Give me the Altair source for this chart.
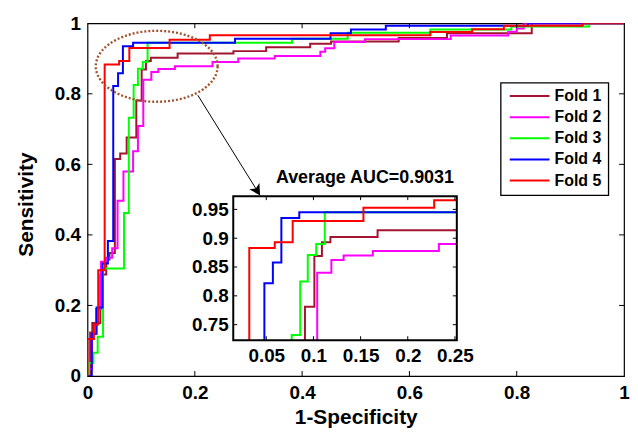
import altair as alt
import numpy as np
import pandas as pd

folds = ["Fold 1", "Fold 2", "Fold 3", "Fold 4", "Fold 5"]
colors = ["#A2142F", "#FF00FF", "#00FF00", "#0000FF", "#FF0000"]

# ROC step corners: at fpr[i] the sensitivity jumps to tpr[i]
fold1_fpr = [0.005, 0.009, 0.024, 0.035, 0.041, 0.051, 0.061, 0.073, 0.091, 0.101, 0.109, 0.118, 0.168, 0.272, 0.333, 0.415, 0.454, 0.580, 0.670, 0.828, 1.0]
fold1_tpr = [0.123, 0.150, 0.288, 0.330, 0.349, 0.615, 0.631, 0.676, 0.781, 0.869, 0.893, 0.902, 0.914, 0.921, 0.932, 0.942, 0.948, 0.958, 0.972, 1.0, 1.0]

fold2_fpr = [0.002, 0.008, 0.016, 0.025, 0.035, 0.046, 0.056, 0.067, 0.085, 0.094, 0.104, 0.119, 0.132, 0.163, 0.233, 0.281, 0.349, 0.434, 0.443, 0.460, 0.517, 0.677, 0.784, 0.800, 0.813, 1.0]
fold2_tpr = [0.020, 0.120, 0.190, 0.324, 0.335, 0.362, 0.497, 0.580, 0.637, 0.709, 0.840, 0.862, 0.870, 0.878, 0.890, 0.900, 0.907, 0.919, 0.929, 0.947, 0.955, 0.965, 0.976, 0.985, 1.0, 1.0]

fold3_fpr = [0.003, 0.011, 0.019, 0.029, 0.068, 0.077, 0.086, 0.094, 0.103, 0.112, 0.381, 0.485, 0.639, 0.790, 0.935, 1.0]
fold3_tpr = [0.037, 0.066, 0.111, 0.305, 0.462, 0.732, 0.825, 0.871, 0.890, 0.945, 0.956, 0.973, 0.982, 0.991, 1.0, 1.0]

fold4_fpr = [0.008, 0.017, 0.028, 0.038, 0.048, 0.057, 0.066, 0.085, 0.275, 0.453, 0.491, 0.556, 0.821, 1.0]
fold4_tpr = [0.120, 0.194, 0.319, 0.383, 0.822, 0.858, 0.935, 0.945, 0.956, 0.972, 0.982, 0.993, 1.0, 1.0]

fold5_fpr = [0.0, 0.012, 0.020, 0.032, 0.059, 0.078, 0.153, 0.228, 0.639, 0.717, 0.776, 0.923, 1.0]
fold5_tpr = [0.105, 0.146, 0.300, 0.883, 0.893, 0.930, 0.953, 0.966, 0.975, 0.983, 0.993, 1.0, 1.0]

main_ticks = [0, 0.2, 0.4, 0.6, 0.8, 1]
inset_xticks = [0.05, 0.1, 0.15, 0.2, 0.25]
inset_yticks = [0.75, 0.8, 0.85, 0.9, 0.95]
inset_xlim = [0.015, 0.252]
inset_ylim = [0.723, 0.973]
inset_title = "Average AUC=0.9031"
xlabel = "1-Specificity"
ylabel = "Sensitivity"

# zoom ellipse (center, radii) and arrow in data units
ell_center = (0.129, 0.878)
ell_radii = (0.1135, 0.1006)
arrow_start = (0.2056, 0.796)
arrow_end = (0.3217, 0.512)

FONT = "Liberation Sans"
W, H = 540, 355
# inset box in pixels within the plot area
IX0, IX1, IY0, IY1 = 146.7, 371.7, 174.0, 319.0

fold_data = [(fold1_fpr, fold1_tpr), (fold2_fpr, fold2_tpr), (fold3_fpr, fold3_tpr),
             (fold4_fpr, fold4_tpr), (fold5_fpr, fold5_tpr)]


def staircase(fpr, tpr):
    xs, ys, prev = [0.0], [0.0], 0.0
    for x, y in zip(fpr, tpr):
        xs += [x, x]
        ys += [prev, y]
        prev = y
    return xs, ys


def clip_poly(xs, ys, xlim, ylim):
    out = []
    for i in range(len(xs) - 1):
        x0, y0, x1, y1 = xs[i], ys[i], xs[i + 1], ys[i + 1]
        if x0 == x1:
            if not (xlim[0] <= x0 <= xlim[1]):
                continue
            a, b = max(y0, ylim[0]), min(y1, ylim[1])
            if a > b:
                continue
            out += [(x0, a), (x0, b)]
        else:
            if not (ylim[0] <= y0 <= ylim[1]):
                continue
            a, b = max(x0, xlim[0]), min(x1, xlim[1])
            if a > b:
                continue
            out += [(a, y0), (b, y0)]
    return out


rows, irows = [], []
for name, (f, t) in zip(folds, fold_data):
    xs, ys = staircase(f, t)
    for k, (x, y) in enumerate(zip(xs, ys)):
        rows.append({"fold": name, "x": x, "y": y, "idx": k})
    for k, (x, y) in enumerate(clip_poly(xs, ys, inset_xlim, inset_ylim)):
        irows.append({"fold": name, "x": x, "y": y, "idx": k})
df = pd.DataFrame(rows)
idf = pd.DataFrame(irows)

color_enc = alt.Color("fold:N", scale=alt.Scale(domain=folds, range=colors), legend=None)

main_xaxis = alt.Axis(values=main_ticks, format="~g", title=xlabel, ticks=False, domain=False,
                      grid=False, labelPadding=8, labelFlush=False, labelOverlap=False,
                      labelFont=FONT, labelFontSize=19, labelFontWeight="bold", labelColor="black",
                      titleFont=FONT, titleFontSize=21, titleFontWeight="bold", titleColor="black",
                      titleX=W / 2, titleY=48, titleBaseline="alphabetic", orient="bottom")
main_yaxis = alt.Axis(values=main_ticks, format="~g", title=ylabel, ticks=False, domain=False,
                      grid=False, labelPadding=7, labelFlush=False, labelOverlap=False,
                      labelFont=FONT, labelFontSize=19, labelFontWeight="bold", labelColor="black",
                      titleFont=FONT, titleFontSize=21, titleFontWeight="bold", titleColor="black",
                      titleX=-61, titleY=182, titleAngle=270, titleAlign="center",
                      titleBaseline="middle", orient="left")


def mx(field, **kw):
    return alt.X(field, type="quantitative", scale=alt.Scale(domain=[0, 1], nice=False, zero=False),
                 axis=main_xaxis, **kw)


def my(field, **kw):
    return alt.Y(field, type="quantitative", scale=alt.Scale(domain=[0, 1], nice=False, zero=False),
                 axis=main_yaxis, **kw)


in_xaxis = alt.Axis(values=inset_xticks, format="~g", title=None, ticks=False, domain=False, grid=False,
                    labelPadding=6, labelFlush=False, labelOverlap=False, orient="bottom",
                    offset=-(H - IY1), labelFont=FONT, labelFontSize=19, labelFontWeight="bold",
                    labelColor="black")
in_yaxis = alt.Axis(values=inset_yticks, format="~g", title=None, ticks=False, domain=False, grid=False,
                    labelPadding=5, labelFlush=False, labelOverlap=False, orient="left",
                    offset=-IX0, labelFont=FONT, labelFontSize=19, labelFontWeight="bold",
                    labelColor="black")


def ix(field, **kw):
    return alt.X(field, type="quantitative",
                 scale=alt.Scale(domain=inset_xlim, range=[IX0, IX1], nice=False, zero=False),
                 axis=in_xaxis, **kw)


def iy(field, **kw):
    return alt.Y(field, type="quantitative",
                 scale=alt.Scale(domain=inset_ylim, range=[IY1, IY0], nice=False, zero=False),
                 axis=in_yaxis, **kw)


# ---------------- main panel ----------------
main_lines = alt.Chart(df).mark_line(strokeWidth=2, clip=True).encode(
    x=mx("x"), y=my("y"), color=color_enc, order="idx:Q")

tick_df = pd.DataFrame({"v": main_ticks[1:-1]})
t_bottom = alt.Chart(tick_df).mark_rule(color="black").encode(x=mx("v"), y=alt.value(H), y2=alt.value(H - 5))
t_top = alt.Chart(tick_df).mark_rule(color="black").encode(x=mx("v"), y=alt.value(0), y2=alt.value(5))
t_left = alt.Chart(tick_df).mark_rule(color="black").encode(y=my("v"), x=alt.value(0), x2=alt.value(5))
t_right = alt.Chart(tick_df).mark_rule(color="black").encode(y=my("v"), x=alt.value(W), x2=alt.value(W - 5))

th = np.linspace(0, 2 * np.pi, 160)
ell_df = pd.DataFrame({"x": ell_center[0] + ell_radii[0] * np.cos(th),
                       "y": ell_center[1] + ell_radii[1] * np.sin(th),
                       "idx": np.arange(len(th))})
ellipse = alt.Chart(ell_df).mark_line(color="#A0522D", strokeWidth=2.4, strokeDash=[2, 2]).encode(
    x=mx("x"), y=my("y"), order="idx:Q")

arr_df = pd.DataFrame({"x": [arrow_start[0]], "y": [arrow_start[1]],
                       "x2": [arrow_end[0]], "y2": [arrow_end[1]]})
arrow_line = alt.Chart(arr_df).mark_rule(color="black", strokeWidth=1).encode(
    x=mx("x"), y=my("y"), x2="x2:Q", y2="y2:Q")
arrow_head = alt.Chart(arr_df).mark_point(
    shape="M 0 0 L -0.55 -1 L 0 -0.75 L 0.55 -1 Z", filled=True, color="black", opacity=1,
    size=480, angle=328).encode(x=mx("x2"), y=my("y2"))

# legend (drawn manually, positions in main data units)
leg_df = pd.DataFrame({"fold": folds})
leg_df["ly"] = 1 - (73.3 + 21.25 * np.arange(len(folds))) / H
leg_box = alt.Chart(pd.DataFrame({"a": [0]})).mark_rect(
    fill="white", stroke="black", strokeWidth=1.3).encode(
    x=alt.value(416), x2=alt.value(524.4), y=alt.value(60), y2=alt.value(173.3))
leg_lines = alt.Chart(leg_df).mark_rule(strokeWidth=2).encode(
    y=my("ly"), x=alt.value(425), x2=alt.value(465), color=color_enc)
leg_text = alt.Chart(leg_df).mark_text(
    align="left", baseline="middle", font=FONT, fontSize=16, fontWeight="bold", color="black").encode(
    y=my("ly"), x=alt.value(470), text="fold:N")

main_layer = alt.layer(main_lines, ellipse, arrow_line, arrow_head,
                       t_bottom, t_top, t_left, t_right, leg_box, leg_lines, leg_text)

# ---------------- inset ----------------
box_df = pd.DataFrame({"x": [inset_xlim[0]], "x2": [inset_xlim[1]],
                       "y": [inset_ylim[0]], "y2": [inset_ylim[1]]})
in_bg = alt.Chart(box_df).mark_rect(fill="white").encode(x=ix("x"), x2="x2:Q", y=iy("y"), y2="y2:Q")
in_lines = alt.Chart(idf).mark_line(strokeWidth=2).encode(
    x=ix("x"), y=iy("y"), color=color_enc, order="idx:Q")
ixt = pd.DataFrame({"v": inset_xticks})
iyt = pd.DataFrame({"v": inset_yticks})
it_b = alt.Chart(ixt).mark_rule(color="black").encode(x=ix("v"), y=alt.value(IY1), y2=alt.value(IY1 - 4))
it_t = alt.Chart(ixt).mark_rule(color="black").encode(x=ix("v"), y=alt.value(IY0), y2=alt.value(IY0 + 4))
it_l = alt.Chart(iyt).mark_rule(color="black").encode(y=iy("v"), x=alt.value(IX0), x2=alt.value(IX0 + 4))
it_r = alt.Chart(iyt).mark_rule(color="black").encode(y=iy("v"), x=alt.value(IX1), x2=alt.value(IX1 - 4))
in_border = alt.Chart(box_df).mark_rect(fill=None, stroke="black", strokeWidth=2).encode(
    x=ix("x"), x2="x2:Q", y=iy("y"), y2="y2:Q")
in_title = alt.Chart(pd.DataFrame({"t": [inset_title]})).mark_text(
    font=FONT, fontSize=18, fontWeight="bold", color="black", align="center", baseline="middle").encode(
    x=alt.value((IX0 + IX1) / 2 + 20), y=alt.value(IY0 - 18), text="t:N")

inset_layer = alt.layer(in_bg, in_lines, it_b, it_t, it_l, it_r, in_border, in_title)

chart = alt.layer(main_layer, inset_layer).resolve_scale(
    x="independent", y="independent"
).properties(
    width=W, height=H,
    autosize=alt.AutoSizeParams(type="none"),
    padding={"left": 80, "top": 14, "right": 6, "bottom": 52},
    background="white",
).configure_view(stroke="black", strokeWidth=1.2)

chart.save("out.html", embed_options={"renderer": "svg", "actions": False})
